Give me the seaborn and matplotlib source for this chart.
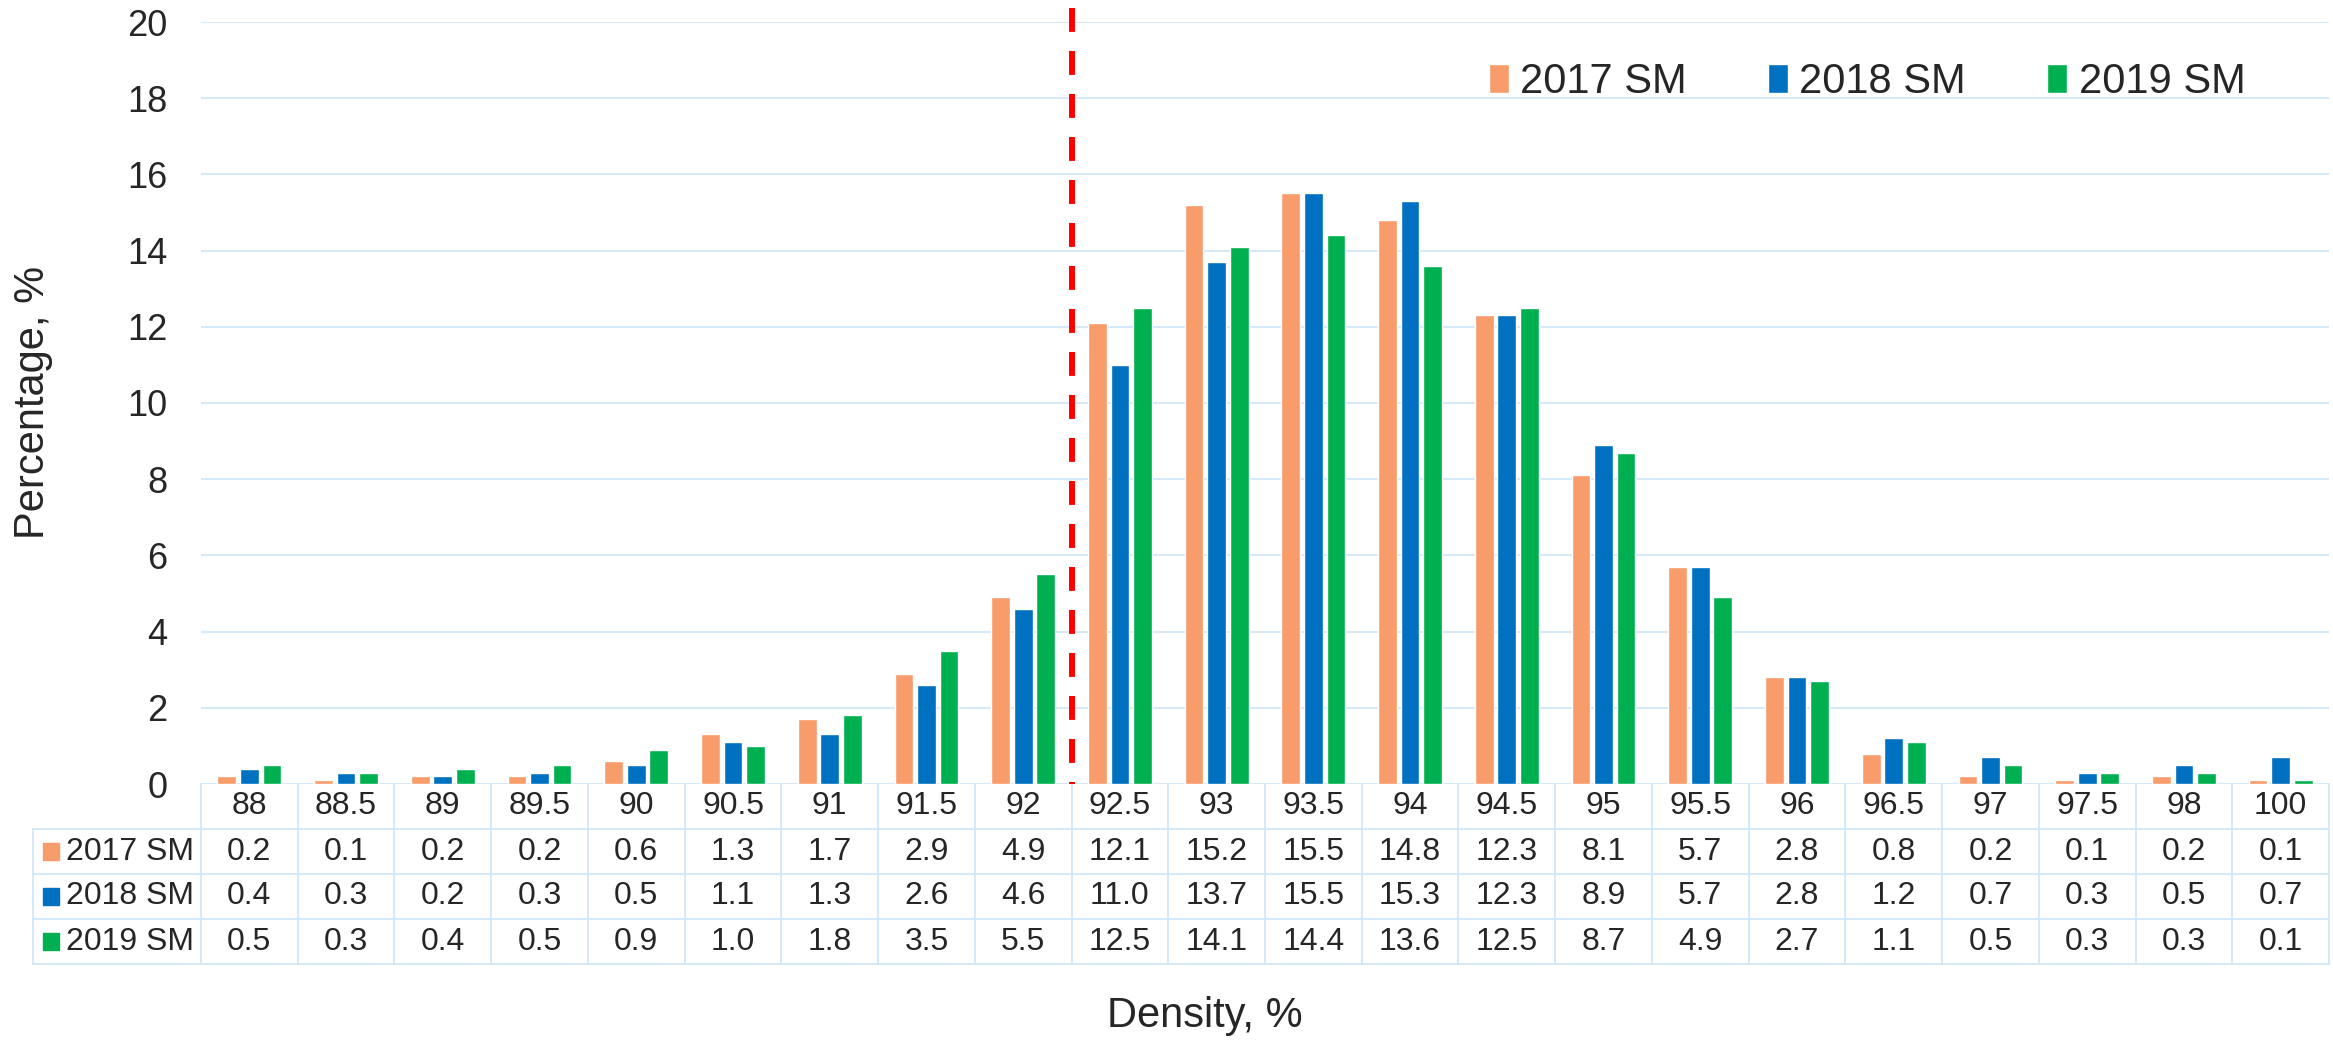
import numpy as np
import pandas as pd
import matplotlib
matplotlib.use('Agg')
import matplotlib.pyplot as plt
import matplotlib.transforms as mtransforms
from matplotlib.patches import Rectangle
from matplotlib.lines import Line2D
import seaborn as sns

# data
density = ['88', '88.5', '89', '89.5', '90', '90.5', '91', '91.5', '92', '92.5', '93',
           '93.5', '94', '94.5', '95', '95.5', '96', '96.5', '97', '97.5', '98', '100']
sm_2017 = [0.2, 0.1, 0.2, 0.2, 0.6, 1.3, 1.7, 2.9, 4.9, 12.1, 15.2,
           15.5, 14.8, 12.3, 8.1, 5.7, 2.8, 0.8, 0.2, 0.1, 0.2, 0.1]
sm_2018 = [0.4, 0.3, 0.2, 0.3, 0.5, 1.1, 1.3, 2.6, 4.6, 11.0, 13.7,
           15.5, 15.3, 12.3, 8.9, 5.7, 2.8, 1.2, 0.7, 0.3, 0.5, 0.7]
sm_2019 = [0.5, 0.3, 0.4, 0.5, 0.9, 1.0, 1.8, 3.5, 5.5, 12.5, 14.1,
           14.4, 13.6, 12.5, 8.7, 4.9, 2.7, 1.1, 0.5, 0.3, 0.3, 0.1]
series = ['2017 SM', '2018 SM', '2019 SM']
colors = ['#F79C6A', '#0070C0', '#00B050']
cutoff = 8.5  # boundary between 92 and 92.5

grid_c = '#D0E7FA'
W, H = 2333, 1041

df = pd.DataFrame({
    'Density': density * 3,
    'Percentage': sm_2017 + sm_2018 + sm_2019,
    'Series': np.repeat(series, len(density)),
})

sns.set_style('white')
plt.rcParams['font.family'] = ['Liberation Sans', 'DejaVu Sans']

fig = plt.figure(figsize=(W / 100, H / 100), dpi=100)
ax = fig.add_axes([201 / W, 1 - 784 / H, 2128 / W, 762 / H])

sns.barplot(data=df, x='Density', y='Percentage', hue='Series', order=density,
            hue_order=series, palette=colors, saturation=1, width=0.7, gap=0.17,
            ax=ax)

ax.set_xlim(-0.5, len(density) - 0.5)
ax.set_ylim(0, 20)
ax.set_yticks(range(0, 21, 2))
ax.yaxis.grid(True, color=grid_c, lw=1.3)
ax.set_axisbelow(True)
for s in ax.spines.values():
    s.set_visible(False)
ax.tick_params(axis='y', length=0, labelsize=26, pad=24)
ax.tick_params(axis='x', length=0, labelbottom=False)
ax.set_xlabel('')
ax.set_ylabel('')

# dashed cutoff line
ax.axvline(cutoff, ymin=1.018, ymax=0, color='red', lw=4.3, dashes=(4, 3.2),
           clip_on=False, zorder=3)

# data table under the axis
trans = mtransforms.blended_transform_factory(ax.transData, ax.transAxes)
rh = 45 / 762
lab_left = (33 - 201) / 2128
for k in range(len(density) + 1):
    ax.add_line(Line2D([k - 0.5, k - 0.5], [0, -4 * rh], transform=trans,
                       color=grid_c, lw=1.3, clip_on=False))
ax.add_line(Line2D([lab_left, lab_left], [-rh, -4 * rh], transform=ax.transAxes,
                   color=grid_c, lw=1.3, clip_on=False))
for r in range(1, 5):
    ax.add_line(Line2D([lab_left, 1], [-r * rh, -r * rh], transform=ax.transAxes,
                       color=grid_c, lw=1.3, clip_on=False))

for i, d in enumerate(density):
    ax.text(i, -0.5 * rh, d, transform=trans, ha='center', va='center',
            fontsize=23, clip_on=False)

sq_left = (43 - 201) / 2128
txt_left = (66 - 201) / 2128
for r, (name, vals, c) in enumerate(zip(series, [sm_2017, sm_2018, sm_2019], colors)):
    yc = -(r + 1.5) * rh
    for i, v in enumerate(vals):
        ax.text(i, yc, f'{v:.1f}', transform=trans, ha='center', va='center',
                fontsize=23, clip_on=False)
    ax.add_patch(Rectangle((sq_left, yc - 8.5 / 762), 16 / 2128, 17 / 762,
                           transform=ax.transAxes, color=c, clip_on=False))
    ax.text(txt_left, yc, name, transform=ax.transAxes, ha='left', va='center',
            fontsize=23, clip_on=False)

handles, labels = ax.get_legend_handles_labels()
ax.legend(handles, labels, ncol=3, loc='center', bbox_to_anchor=(0.783, 0.921),
          frameon=False, fontsize=30, handlelength=0.48, handleheight=0.68,
          handletextpad=0.27, columnspacing=1.95)

fig.text(1205 / W, 1 - 1016 / H, 'Density, %', ha='center', va='center', fontsize=30)
fig.text(33 / W, 1 - 402 / H, 'Percentage, %', ha='center', va='center',
         rotation=90, fontsize=30)

fig.savefig('out.png', dpi=100)
